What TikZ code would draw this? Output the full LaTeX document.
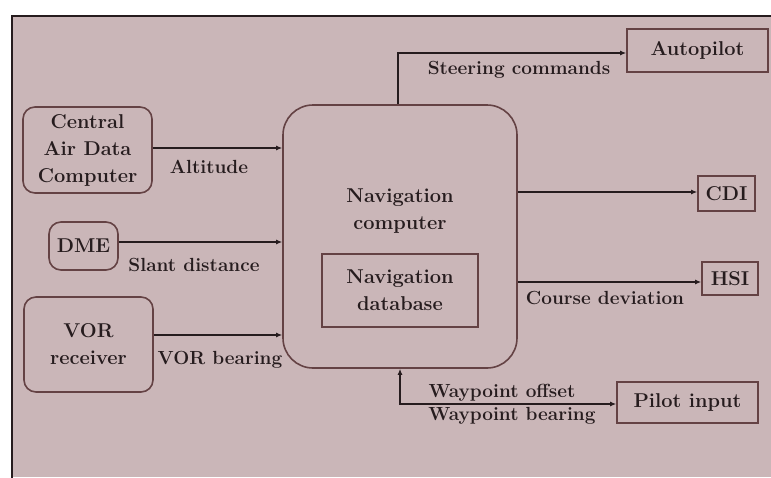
\documentclass[tikz,border=0pt]{standalone}
\usetikzlibrary{arrows.meta}
\definecolor{paper}{RGB}{202,182,184}
\definecolor{ink}{RGB}{38,28,30}
\definecolor{edge}{RGB}{100,66,68}
\begin{document}
\begin{tikzpicture}[x=1pt,y=-1pt,
  box/.style={draw=edge,line width=1.6pt,text=ink,align=center,inner sep=0pt,
    font=\fontsize{20}{27}\selectfont\bfseries},
  rbox/.style={box,rounded corners=12pt},
  lbl/.style={text=ink,inner sep=0pt,font=\fontsize{19}{23}\selectfont\bfseries},
  arr/.style={draw=ink,line width=1.5pt,-{Latex[length=6pt,width=5pt]}}]
\useasboundingbox (0,0) rectangle (771,477);
% page and frame
\fill[white] (0,0) rectangle (771,477);
\fill[paper] (12,16) rectangle (771,477);
\draw[ink,line width=2.6pt] (12,478) -- (12,16) -- (772,16);

% sources
\node[rbox,minimum width=129pt,minimum height=86pt] (cadc) at (87.5,150) {Central\\Air Data\\Computer};
\node[rbox,minimum width=69pt,minimum height=48pt] (dme) at (83.5,246) {DME};
\node[rbox,minimum width=129pt,minimum height=95pt] (vor) at (88.5,344.5) {VOR\\receiver};

% navigation computer with its database
\node[box,rounded corners=30pt,minimum width=234pt,minimum height=263pt] (nav) at (400,236.5) {};
\node[text=ink,align=center,inner sep=0pt,font=\fontsize{20}{27}\selectfont\bfseries] (navt) at (400,211) {Navigation\\computer};
\node[box,minimum width=156pt,minimum height=73pt] (db) at (400,290.5) {Navigation\\database};

% outputs
\node[box,minimum width=141pt,minimum height=43pt] (auto) at (697.5,50.5) {Autopilot};
\node[box,minimum width=57pt,minimum height=35pt] (cdi) at (726.5,193.5) {CDI};
\node[box,minimum width=56pt,minimum height=33pt] (hsi) at (730,278.5) {HSI};
\node[box,minimum width=141pt,minimum height=41pt] (pilot) at (687.5,402.5) {Pilot input};

% inputs to the computer
\draw[arr] (cadc.east |- 0,148) -- (nav.west |- 0,148);
\node[lbl] (altl) at (209,167) {Altitude};
\draw[arr] (dme.east |- 0,242) -- (nav.west |- 0,242);
\node[lbl] (slantl) at (194,265) {Slant distance};
\draw[arr] (vor.east |- 0,335) -- (nav.west |- 0,335);
\node[lbl] (vorl) at (220,360) {VOR bearing};

% outputs from the computer
\coordinate (steer) at (398,53);
\draw[arr] (nav.north -| steer) -- (steer) -- (auto.west |- steer);
\node[lbl] (steerl) at (519,70) {Steering commands};
\draw[arr] (nav.east |- 0,192) -- (cdi.west |- 0,192);
\draw[arr] (nav.east |- 0,282) -- (hsi.west |- 0,282);
\node[lbl] (coursel) at (605,298) {Course deviation};

% pilot input, both ways
\coordinate (wp) at (400,404);
\draw[arr,{Latex[length=6pt,width=5pt]}-{Latex[length=6pt,width=5pt]}] (nav.south -| wp) -- (wp) -- (pilot.west |- wp);
\node[lbl] (wpo) at (502,393) {Waypoint offset};
\node[lbl] (wpb) at (512,416) {Waypoint bearing};
\end{tikzpicture}
\end{document}
